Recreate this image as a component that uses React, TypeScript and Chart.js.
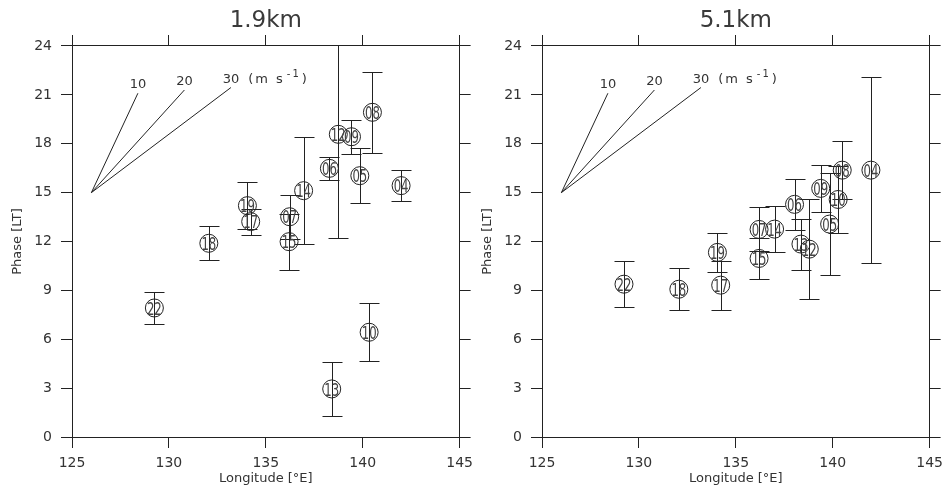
import React, { useEffect, useRef } from 'react';
import { Chart, registerables } from 'chart.js';

Chart.register(...registerables);

// ---- axes / ticks ----
const xTickValues = [125, 130, 135, 140, 145];
const yTickValues = [0, 3, 6, 9, 12, 15, 18, 21, 24];

// ---- panel 1: 1.9 km ----
const labels19 = ['22', '18', '19', '17', '07', '15', '14', '06', '12', '09', '08', '05', '04', '10', '13'];
const lon19 = [129.25, 132.06, 134.05, 134.22, 136.23, 136.2, 136.95, 138.28, 138.74, 139.42, 140.5, 139.85, 141.98, 140.33, 138.4];
const phase19 = [7.92, 11.89, 14.2, 13.22, 13.52, 11.99, 15.12, 16.49, 18.58, 18.43, 19.93, 16.04, 15.43, 6.43, 2.95];
const err19 = [1.0, 1.05, 1.43, 0.8, 1.34, 1.72, 3.3, 0.7, 6.35, 1.05, 2.5, 1.7, 0.93, 1.78, 1.67];

// ---- panel 2: 5.1 km ----
const labels51 = ['22', '18', '19', '17', '07', '15', '14', '06', '13', '12', '09', '05', '08', '10', '04'];
const lon51 = [129.23, 132.06, 134.05, 134.22, 136.2, 136.2, 137.0, 138.03, 138.36, 138.79, 139.38, 139.84, 140.49, 140.28, 141.97];
const phase51 = [9.38, 9.07, 11.33, 9.32, 12.74, 10.96, 12.76, 14.28, 11.84, 11.53, 15.26, 13.07, 16.38, 14.58, 16.38];
const err51 = [1.41, 1.28, 1.2, 1.5, 1.35, 1.27, 1.4, 1.55, 1.57, 3.05, 1.46, 3.15, 1.78, 2.05, 5.73];

// ---- propagation-speed reference lines ----
const windSpeedLabels = ['10', '20', '30'];
const windOriginLon = 126;
const windOriginPhase = 15;
const windEndLon = [128.4, 130.8, 133.2];
const windEndPhase = [21.1, 21.3, 21.45];

const INK = '#222';
const TEXT = '#333';
const FONT = "'DejaVu Sans', sans-serif";

type PanelProps = {
  title: string;
  labels: string[];
  lon: number[];
  phase: number[];
  err: number[];
  left: number;
};

function Panel({ title, labels, lon, phase, err, left }: PanelProps) {
  const ref = useRef<HTMLCanvasElement>(null);

  useEffect(() => {
    const canvas = ref.current!;
    const overlay = {
      id: 'overlay',
      afterDatasetsDraw(chart: any) {
        const ctx = chart.ctx as CanvasRenderingContext2D;
        const xs = chart.scales.x;
        const ys = chart.scales.y;
        const area = chart.chartArea;
        // error bars
        ctx.save();
        ctx.beginPath();
        ctx.rect(area.left, area.top, area.right - area.left, area.bottom - area.top);
        ctx.clip();
        ctx.strokeStyle = INK;
        ctx.lineWidth = 1;
        for (let i = 0; i < lon.length; i++) {
          const x = Math.round(xs.getPixelForValue(lon[i])) + 0.5;
          const yt = Math.round(ys.getPixelForValue(phase[i] + err[i])) + 0.5;
          const yb = Math.round(ys.getPixelForValue(phase[i] - err[i])) + 0.5;
          ctx.beginPath();
          ctx.moveTo(x, yt);
          ctx.lineTo(x, yb);
          ctx.moveTo(x - 10, yt);
          ctx.lineTo(x + 10, yt);
          ctx.moveTo(x - 10, yb);
          ctx.lineTo(x + 10, yb);
          ctx.stroke();
        }
        ctx.restore();

        // labels in circles
        ctx.save();
        ctx.fillStyle = '#444';
        ctx.font = `18px ${FONT}`;
        ctx.textAlign = 'center';
        ctx.textBaseline = 'alphabetic';
        for (let i = 0; i < lon.length; i++) {
          const x = xs.getPixelForValue(lon[i]);
          const y = ys.getPixelForValue(phase[i]);
          ctx.save();
          ctx.translate(x, y + 0.365 * 18);
          ctx.scale(0.65, 1);
          ctx.fillText(labels[i], 0, 0);
          ctx.restore();
        }
        ctx.restore();

        // speed labels
        ctx.save();
        ctx.fillStyle = TEXT;
        ctx.font = `13px ${FONT}`;
        ctx.textBaseline = 'alphabetic';
        for (let i = 0; i < windSpeedLabels.length; i++) {
          const x = xs.getPixelForValue(windEndLon[i]);
          const y = ys.getPixelForValue(windEndPhase[i]) - 5;
          ctx.textAlign = 'center';
          ctx.fillText(windSpeedLabels[i], x, y);
          if (i === windSpeedLabels.length - 1) {
            const w = ctx.measureText(windSpeedLabels[i]).width;
            let cx = x + w / 2 + 9;
            ctx.textAlign = 'left';
            (ctx as any).letterSpacing = '2px';
            ctx.fillText('(m s', cx, y);
            cx += ctx.measureText('(m s').width + 2;
            ctx.font = `10px ${FONT}`;
            ctx.fillText('-1', cx, y - 6);
            cx += ctx.measureText('-1').width + 1;
            ctx.font = `13px ${FONT}`;
            ctx.fillText(')', cx, y);
            (ctx as any).letterSpacing = '0px';
          }
        }
        ctx.restore();
      },
    };

    const setTicks = (vals: number[]) => (s: any) => {
      s.ticks = vals.map((v) => ({ value: v }));
    };
    const grid = { drawOnChartArea: false, drawTicks: true, tickLength: 11, color: INK, lineWidth: 1 };
    const border = { display: true, color: INK, width: 1 };
    const tickFont = { family: FONT, size: 14 };

    const windSets = windSpeedLabels.map((_, i) => ({
      label: 'w' + i,
      data: [
        { x: windOriginLon, y: windOriginPhase },
        { x: windEndLon[i], y: windEndPhase[i] },
      ],
      showLine: true,
      borderColor: INK,
      borderWidth: 1,
      pointRadius: 0,
      fill: false,
    }));

    const chart = new Chart(canvas, {
      type: 'scatter',
      data: {
        datasets: [
          ...windSets,
          {
            label: title,
            data: lon.map((x, i) => ({ x, y: phase[i] })),
            pointRadius: 9,
            pointBackgroundColor: 'rgba(0,0,0,0)',
            pointBorderColor: INK,
            pointBorderWidth: 1,
            showLine: false,
          },
        ] as any,
      },
      options: {
        responsive: false,
        animation: false,
        devicePixelRatio: 1,
        events: [],
        layout: { padding: 0 },
        plugins: {
          legend: { display: false },
          tooltip: { enabled: false },
          title: {
            display: true,
            text: title,
            color: '#3a3a3a',
            fullSize: false,
            font: { family: FONT, size: 23, weight: 'normal' },
            padding: { top: 7, bottom: 0 },
          },
        },
        scales: {
          x: {
            type: 'linear',
            position: 'bottom',
            min: 125,
            max: 145,
            afterBuildTicks: setTicks(xTickValues),
            afterFit: (s: any) => { s.height = 56; },
            ticks: { color: TEXT, font: tickFont, padding: 7, maxRotation: 0, autoSkip: false },
            grid,
            border,
            title: {
              display: true,
              text: 'Longitude [°E]',
              color: TEXT,
              font: { family: FONT, size: 13 },
              padding: { top: 0, bottom: 7 },
            },
          },
          x2: {
            type: 'linear',
            position: 'top',
            min: 125,
            max: 145,
            afterBuildTicks: setTicks(xTickValues),
            afterFit: (s: any) => { s.height = 46 - 34.6; },
            ticks: { display: false },
            grid,
            border,
          },
          y: {
            type: 'linear',
            position: 'left',
            min: 0,
            max: 24,
            afterBuildTicks: setTicks(yTickValues),
            afterFit: (s: any) => { s.width = 72; },
            ticks: { color: TEXT, font: tickFont, padding: 9, autoSkip: false },
            grid,
            border,
            title: {
              display: true,
              text: 'Phase [LT]',
              color: TEXT,
              font: { family: FONT, size: 13 },
              padding: { top: 10, bottom: 0 },
            },
          },
          y2: {
            type: 'linear',
            position: 'right',
            min: 0,
            max: 24,
            afterBuildTicks: setTicks(yTickValues),
            afterFit: (s: any) => { s.width = 17; },
            ticks: { display: false },
            grid,
            border,
          },
        },
      } as any,
      plugins: [overlay],
    });
    return () => chart.destroy();
  }, []);

  return (
    <canvas
      ref={ref}
      width={480}
      height={493}
      style={{ position: 'absolute', left, top: 0, width: 480, height: 493 }}
    />
  );
}

export default function App() {
  return (
    <div style={{ position: 'fixed', left: 0, top: 0, width: 950, height: 493, background: '#fff', overflow: 'hidden' }}>
      <Panel title="1.9km" labels={labels19} lon={lon19} phase={phase19} err={err19} left={0} />
      <Panel title="5.1km" labels={labels51} lon={lon51} phase={phase51} err={err51} left={470} />
    </div>
  );
}
